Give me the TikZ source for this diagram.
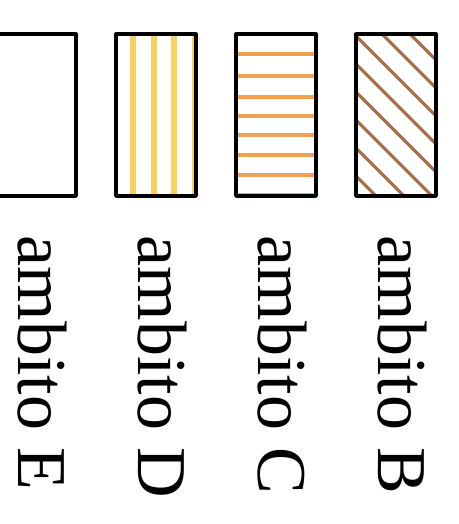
\documentclass[tikz,border=0pt]{standalone}
\usepackage{fontspec}
\setmainfont{Liberation Serif}
\usepackage{tikz}
\usetikzlibrary{positioning,backgrounds}
\usepackage{xcolor}
\definecolor{ambitoyellow}{RGB}{248,208,96}
\definecolor{ambitoorange}{RGB}{243,160,80}
\definecolor{ambitobrown}{RGB}{168,108,70}

\begin{document}
\begin{tikzpicture}[
		legendbox/.style={draw=black, line width=2.7pt, line join=round, minimum width=2cm, minimum height=4.04cm, inner sep=0pt, outer sep=0pt},
		ambitolabel/.style={rotate=-90, anchor=base west, inner sep=0pt, font=\fontsize{49.8}{50}\selectfont}]
			\useasboundingbox (0,0) rectangle (11.45,13.1);
			
			\node[legendbox] (boxE) at (0.9,10.22) {};
			\node[legendbox, right=1cm of boxE] (boxD) {};
			\node[legendbox, right=1cm of boxD] (boxC) {};
			\node[legendbox, right=1cm of boxC] (boxB) {};
			
			\begin{scope}[on background layer]
				\begin{scope}
					\clip (boxD.south west) rectangle (boxD.north east);
					\foreach \x in {3.325,3.84,4.355,4.87}
						\draw[ambitoyellow, line width=0.15cm] (\x,8) -- (\x,12.5);
				\end{scope}
				\begin{scope}
					\clip (boxC.south west) rectangle (boxC.north east);
					\foreach \y in {11.75,11.2,10.675,10.2,9.725,9.225,8.725,8.225}
						\draw[ambitoorange, line width=0.1cm] (5.8,\y) -- (8,\y);
				\end{scope}
				\begin{scope}
					\clip (boxB.south west) rectangle (boxB.north east);
					\foreach \k in {-4,...,5}
						\draw[ambitobrown, line width=0.075cm] (8.8,{19.7+0.7*\k-8.8}) -- (11,{19.7+0.7*\k-11});
				\end{scope}
			\end{scope}
			
			\node[ambitolabel] (labE) at (0.47,7.21) {ambito E};
			\node[ambitolabel] (labD) at (3.47,7.21) {ambito D};
			\node[ambitolabel] (labC) at (6.47,7.21) {ambito C};
			\node[ambitolabel] (labB) at (9.45,7.21) {ambito B};
		\end{tikzpicture}
\end{document}
